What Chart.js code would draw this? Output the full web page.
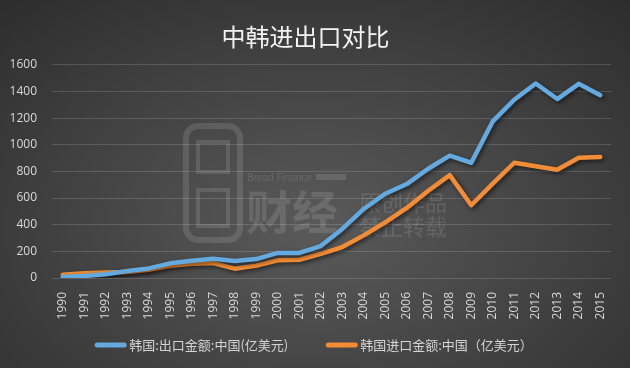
<!DOCTYPE html>
<html>
<head>
<meta charset="utf-8">
<script src="https://cdn.jsdelivr.net/npm/chart.js@4.4.1/dist/chart.umd.min.js"></script>
<style>
html, body { margin: 0; padding: 0; }
body {
  width: 630px; height: 368px; overflow: hidden;
  background: radial-gradient(ellipse 75% 85% at 50% 62%, #5a5a5a 0%, #2c2c2c 100%);
}
</style>
</head>
<body>
<canvas id="chart" width="630" height="368"></canvas>
<script>
// 年份 + 两条序列（亿美元）
const years = ["1990","1991","1992","1993","1994","1995","1996","1997","1998","1999","2000","2001","2002",
  "2003","2004","2005","2006","2007","2008","2009","2010","2011","2012","2013","2014","2015"];
const exportToChina = [8, 15, 28, 52, 72, 110, 130, 145, 128, 142, 188, 188, 240,
  368, 518, 632, 705, 820, 918, 865, 1175, 1338, 1460, 1343, 1457, 1372];
const importFromChina = [25, 36, 42, 45, 62, 92, 106, 112, 70, 93, 133, 137, 181,
  232, 320, 418, 526, 655, 772, 546, 708, 865, 838, 813, 902, 908];
const seriesNames = ["韩国:出口金额:中国(亿美元)", "韩国进口金额:中国（亿美元）"];
const seriesColors = ["#64aae0", "#f28c36"];

const tickColor = "#d9d9d9";
const gridColor = "rgba(255,255,255,0.15)";

// 水印 + 线条阴影
const shadowPlugin = {
  id: "shadow",
  beforeDatasetsDraw(chart) {
    const ctx = chart.ctx;
    ctx.save();
    ctx.strokeStyle = "rgba(255,255,255,0.12)";
    ctx.fillStyle = "rgba(255,255,255,0.12)";
    ctx.lineWidth = 6;
    ctx.beginPath();
    ctx.roundRect(186, 126, 54, 114, 12);
    ctx.stroke();
    ctx.lineWidth = 4;
    ctx.strokeRect(198, 142, 30, 30);
    ctx.strokeRect(198, 190, 30, 36);
    ctx.font = "10px 'Liberation Sans'";
    ctx.textBaseline = "middle";
    ctx.fillText("Bread Finance", 247, 178);
    ctx.fillRect(316, 174, 30, 6);
    ctx.font = "bold 46px 'Noto Sans CJK SC'";
    ctx.fillText("财经", 246, 212);
    ctx.font = "22px 'Noto Sans CJK SC'";
    ctx.fillText("原创作品", 359, 203);
    ctx.fillText("禁止转载", 359, 227);
    ctx.restore();

    ctx.save();
    ctx.shadowColor = "rgba(0,0,0,0.55)";
    ctx.shadowBlur = 4;
    ctx.shadowOffsetX = 2;
    ctx.shadowOffsetY = 2;
  },
  afterDatasetsDraw(chart) {
    chart.ctx.restore();
  }
};

// 底部图例
const legendPlugin = {
  id: "bottomLegend",
  afterDraw(chart) {
    const ctx = chart.ctx;
    ctx.save();
    ctx.font = "13px 'Noto Sans CJK SC'";
    ctx.textBaseline = "middle";
    const sample = 31, gapText = 3, gapItem = 38, y = 345;
    const items = chart.data.datasets.map(ds => ({
      label: ds.label, color: ds.borderColor, w: ctx.measureText(ds.label).width
    }));
    let total = 0;
    items.forEach((it, i) => { total += sample + gapText + it.w + (i ? gapItem : 0); });
    let x = 314 - total / 2;
    items.forEach(it => {
      ctx.strokeStyle = it.color;
      ctx.lineWidth = 5;
      ctx.lineCap = "round";
      ctx.beginPath();
      ctx.moveTo(x + 2, y);
      ctx.lineTo(x + sample - 2, y);
      ctx.stroke();
      ctx.fillStyle = "#d4d4d4";
      ctx.fillText(it.label, x + sample + gapText, y);
      x += sample + gapText + it.w + gapItem;
    });
    ctx.restore();
  }
};

new Chart(document.getElementById("chart"), {
  type: "line",
  data: {
    labels: years,
    datasets: [
      {
        label: seriesNames[0],
        data: exportToChina,
        borderColor: seriesColors[0],
        backgroundColor: seriesColors[0],
        borderWidth: 4.5,
        pointRadius: 0,
        tension: 0,
        borderCapStyle: "round",
        borderJoinStyle: "round"
      },
      {
        label: seriesNames[1],
        data: importFromChina,
        borderColor: seriesColors[1],
        backgroundColor: seriesColors[1],
        borderWidth: 4.5,
        pointRadius: 0,
        tension: 0,
        borderCapStyle: "round",
        borderJoinStyle: "round"
      }
    ]
  },
  options: {
    responsive: false,
    animation: false,
    layout: { padding: { left: 0, right: 19, top: 0, bottom: 0 } },
    plugins: {
      legend: { display: false },
      tooltip: { enabled: false },
      title: {
        display: true,
        text: "中韩进出口对比",
        color: "#f4f4f4",
        font: { family: "'Noto Sans CJK SC'", size: 24, weight: "normal" },
        padding: { top: 22, bottom: 14 }
      }
    },
    scales: {
      x: {
        offset: true,
        grid: { display: false },
        border: { display: false },
        ticks: {
          color: tickColor,
          font: { family: "'Open Sans'", size: 12 },
          minRotation: 90,
          maxRotation: 90,
          autoSkip: false,
          padding: 6
        },
        afterFit(s) { s.height = 90; }
      },
      y: {
        min: 0,
        max: 1600,
        grid: { color: gridColor, drawTicks: false },
        border: { display: false },
        ticks: {
          stepSize: 200,
          color: tickColor,
          font: { family: "'Open Sans'", size: 12 },
          padding: 15,
          callback: v => String(v)
        },
        afterFit(s) { s.width = 52; }
      }
    }
  },
  plugins: [shadowPlugin, legendPlugin]
});
</script>
</body>
</html>
